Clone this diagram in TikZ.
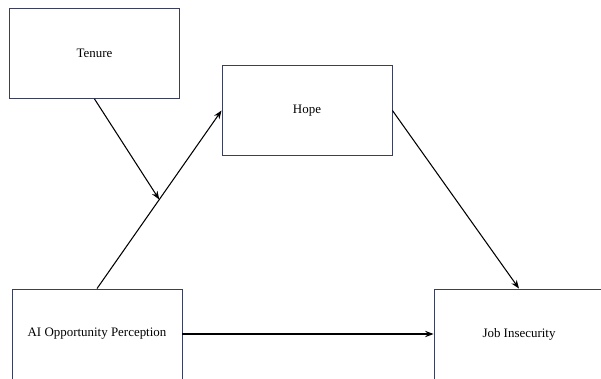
\documentclass[tikz,border=0pt]{standalone}
\usepackage{fontspec}
\setmainfont{Liberation Serif}
\usepackage{tikz}
\usetikzlibrary{arrows.meta}

\definecolor{boxline}{HTML}{3A3F5C}
\tikzset{
  varbox/.style={draw=boxline, line width=0.6pt, minimum width=4.25cm, minimum height=2.25cm, font=\fontsize{9.2}{11}\selectfont},
  link/.style={line width=0.75pt, -{Stealth[length=6pt,width=4.5pt]}}
}

\begin{document}
\begin{tikzpicture}[x=0.025cm, y=-0.025cm]
\useasboundingbox (0,0) rectangle (601,378);
\clip (0,0) rectangle (601,378);
\node[varbox] (tenure) at (94.5,53.5) {Tenure};
\node[varbox] (hope) at (307,110.5) {Hope};
\node[varbox] (ai) at (97,334) {AI Opportunity Perception};
\node[varbox] (job) at (519,334) {Job Insecurity};
\draw[link] (ai.north) -- (hope.west) coordinate[pos=0.5] (mid);
\draw[link] (tenure.south) -- (mid);
\draw[link] (hope.east) -- (job.north);
\draw[link] (ai.east) -- (job.west);
\end{tikzpicture}
\end{document}
